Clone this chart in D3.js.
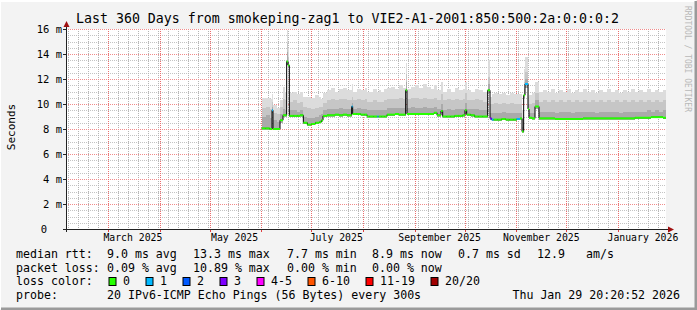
<!DOCTYPE html>
<html>
<head>
<meta charset="utf-8">
<title>Smokeping 360 days</title>
<style>
  body { margin: 0; background: #f3f3f3; }
  svg text { font-family: "DejaVu Sans Mono", monospace; fill: #000; }
</style>
</head>
<body>
<div id="container"></div>
<script src="https://d3js.org/d3.v7.min.js"></script>
<script>

const width = 697;
const height = 310;
const plotLeft = 66;
const plotRight = 666;
const plotTop = 29;
const plotBottom = 229;

const endTime = new Date(2026, 0, 29, 20, 20, 52);
const startTime = new Date(endTime.getTime() - 360 * 864e5);

// days since the start of the graph window
const dayOffset = [
  117.4, 119.8, 122.2, 123.6, 124.2, 126.6, 128.4, 130.2, 131.4, 132.4,
  133.2, 134.0, 136.4, 138.8, 140.4, 142.4, 144.8, 147.2, 149.6, 152.0,
  153.2, 154.2, 156.6, 159.0, 161.4, 163.8, 166.2, 168.6, 171.4, 172.0,
  174.4, 176.8, 179.2, 180.6, 182.0, 184.4, 186.8, 187.6, 189.2, 191.0,
  192.6, 195.0, 197.4, 199.8, 202.2, 203.8, 204.6, 207.0, 209.4, 211.8,
  214.2, 216.6, 219.0, 220.8, 222.6, 225.0, 226.0, 228.4, 230.8, 233.2,
  235.6, 238.0, 239.4, 240.4, 242.8, 245.2, 247.6, 250.0, 253.0, 254.4,
  255.4, 256.6, 259.0, 261.4, 263.8, 266.2, 268.6, 270.4, 272.4, 273.6,
  274.6, 275.4, 277.2, 277.8, 279.6, 281.4, 283.8, 286.2, 288.6, 291.0,
  293.4, 295.8, 298.2, 300.6, 303.0, 305.4, 307.8, 310.2, 312.6, 315.0,
  317.4, 319.8, 322.2, 324.6, 327.0, 329.4, 331.8, 334.2, 336.6, 339.0,
  341.4, 343.8, 346.2, 348.6, 351.0, 353.4, 355.8, 358.2
];

// median rtt, milliseconds
const median = [
  8.05, 8.05, 8.0, 9.5, 8.0, 8.0, 8.7, 9.1, 9.1, 13.4,
  13.1, 9.05, 9.05, 9.05, 9.1, 8.5, 8.35, 8.4, 8.5, 8.55,
  8.7, 9.05, 9.1, 9.1, 9.15, 9.1, 9.15, 9.1, 9.8, 9.2,
  9.2, 9.15, 9.15, 9.0, 9.0, 9.0, 9.0, 9.0, 9.0, 9.0,
  9.15, 9.15, 9.2, 9.15, 9.15, 11.1, 9.2, 9.2, 9.2, 9.2,
  9.2, 9.2, 9.2, 9.3, 9.1, 9.45, 9.0, 9.0, 9.0, 9.05,
  9.05, 9.1, 9.5, 9.15, 9.1, 9.0, 9.0, 9.0, 11.1, 8.85,
  8.75, 8.75, 8.75, 8.8, 8.75, 8.75, 8.75, 8.8, 8.85, 7.8,
  10.7, 11.6, 9.6, 8.9, 8.85, 9.8, 8.85, 8.85, 8.85, 8.85,
  8.8, 8.8, 8.8, 8.8, 8.8, 8.8, 8.8, 8.85, 8.85, 8.85,
  8.85, 8.85, 8.85, 8.85, 8.85, 8.85, 8.85, 8.85, 8.85, 8.85,
  8.9, 8.9, 8.9, 8.9, 8.95, 8.95, 8.95, 8.9
];

// lost pings out of 20
const lossCount = [
  0, 0, 0, 1, 0, 0, 0, 0, 0, 0,
  0, 0, 0, 0, 0, 0, 0, 0, 0, 0,
  0, 0, 0, 0, 0, 0, 0, 0, 1, 0,
  0, 0, 0, 0, 0, 0, 1, 0, 0, 0,
  0, 0, 0, 0, 0, 0, 0, 0, 0, 0,
  0, 0, 0, 0, 0, 0, 0, 0, 0, 0,
  0, 0, 0, 0, 0, 0, 0, 0, 0, 3,
  1, 0, 0, 0, 0, 0, 0, 1, 0, 0,
  0, 1, 0, 0, 0, 0, 0, 0, 0, 0,
  0, 0, 0, 0, 0, 0, 0, 0, 0, 0,
  0, 0, 0, 0, 0, 0, 0, 0, 0, 0,
  0, 0, 0, 0, 0, 0, 0, 0
];

// smoke: spread of the 20 pings around the median, milliseconds
const smokeLow = [
  7.95, 7.95, 7.9, 9.3, 7.9, 7.9, 8.5, 8.95, 8.95, 13.1,
  12.9, 8.95, 8.95, 8.95, 9.0, 8.4, 8.25, 8.3, 8.4, 8.45,
  8.6, 8.95, 9.0, 9.0, 9.05, 9.0, 9.05, 9.0, 9.6, 9.1,
  9.1, 9.05, 9.05, 8.9, 8.9, 8.9, 8.9, 8.9, 8.9, 8.9,
  9.05, 9.05, 9.1, 9.05, 9.05, 10.9, 9.1, 9.1, 9.1, 9.1,
  9.1, 9.1, 9.1, 9.2, 9.0, 9.3, 8.9, 8.9, 8.9, 8.95,
  8.95, 9.0, 9.3, 9.05, 9.0, 8.9, 8.9, 8.9, 10.9, 8.75,
  8.65, 8.65, 8.65, 8.7, 8.65, 8.65, 8.65, 8.7, 8.7, 7.65,
  10.5, 11.3, 9.4, 8.8, 8.75, 9.6, 8.75, 8.75, 8.75, 8.75,
  8.7, 8.7, 8.7, 8.7, 8.7, 8.7, 8.7, 8.75, 8.75, 8.75,
  8.75, 8.75, 8.75, 8.75, 8.75, 8.75, 8.75, 8.75, 8.75, 8.75,
  8.8, 8.8, 8.8, 8.8, 8.85, 8.85, 8.85, 8.8
];

const smokeInner = [
  9.0, 9.1, 8.9, 9.8, 8.7, 8.6, 9.2, 9.6, 9.5, 14.2,
  13.4, 9.5, 9.5, 9.4, 9.5, 9.0, 8.9, 8.9, 9.0, 9.1,
  9.2, 9.5, 9.6, 9.6, 9.6, 9.7, 9.6, 9.6, 10.1, 9.6,
  9.7, 9.6, 9.6, 9.5, 9.5, 9.5, 9.5, 9.5, 9.5, 9.5,
  9.7, 9.7, 9.7, 9.7, 9.7, 11.8, 9.7, 9.8, 9.7, 9.7,
  9.8, 9.7, 9.7, 9.8, 9.6, 10.0, 9.5, 9.6, 9.5, 9.6,
  9.6, 9.6, 10.1, 9.6, 9.6, 9.6, 9.5, 9.5, 11.6, 9.3,
  9.3, 9.3, 9.3, 9.4, 9.3, 9.3, 9.3, 9.3, 9.3, 8.2,
  11.2, 12.0, 10.0, 9.3, 9.3, 10.3, 9.4, 9.4, 9.4, 9.4,
  9.3, 9.4, 9.4, 9.4, 9.3, 9.4, 9.4, 9.4, 9.4, 9.4,
  9.3, 9.4, 9.4, 9.4, 9.4, 9.4, 9.3, 9.4, 9.4, 9.4,
  9.4, 9.4, 9.4, 9.5, 9.4, 9.5, 9.4, 9.5
];

const smokeMid = [
  9.7, 9.8, 9.6, 10.2, 9.3, 9.2, 9.8, 10.4, 10.3, 14.9,
  13.8, 10.2, 10.3, 10.1, 10.2, 9.8, 9.7, 9.6, 9.7, 9.8,
  9.8, 10.1, 10.3, 10.4, 10.3, 10.4, 10.4, 10.3, 10.6, 10.3,
  10.4, 10.3, 10.4, 10.2, 10.2, 10.3, 10.2, 10.2, 10.2, 10.3,
  10.4, 10.4, 10.4, 10.5, 10.4, 12.4, 10.4, 10.5, 10.5, 10.4,
  10.5, 10.4, 10.4, 10.5, 10.3, 10.8, 10.3, 10.4, 10.3, 10.4,
  10.3, 10.4, 10.9, 10.3, 10.3, 10.4, 10.3, 10.2, 12.2, 10.0,
  10.0, 10.1, 10.0, 10.1, 10.0, 10.1, 10.0, 10.0, 10.0, 8.8,
  11.8, 12.6, 10.6, 10.0, 10.1, 10.9, 10.2, 10.3, 10.2, 10.3,
  10.2, 10.3, 10.2, 10.3, 10.2, 10.3, 10.2, 10.3, 10.2, 10.3,
  10.2, 10.3, 10.2, 10.3, 10.2, 10.3, 10.2, 10.3, 10.2, 10.3,
  10.2, 10.3, 10.2, 10.3, 10.2, 10.3, 10.2, 10.3
];

const smokeTop = [
  10.45, 10.5, 10.4, 10.8, 9.9, 9.7, 10.3, 11.4, 11.0, 15.9,
  14.5, 10.9, 11.0, 10.8, 11.0, 10.6, 10.6, 10.5, 10.7, 10.6,
  10.4, 10.9, 11.1, 11.3, 11.0, 11.2, 11.3, 11.1, 11.6, 11.0,
  11.2, 11.1, 11.3, 11.0, 11.0, 11.2, 11.0, 11.1, 11.0, 11.2,
  11.3, 11.4, 11.2, 11.5, 11.3, 13.3, 11.2, 11.4, 11.5, 11.3,
  11.6, 11.4, 11.2, 11.5, 11.1, 11.8, 11.0, 11.2, 11.0, 11.3,
  11.1, 11.2, 11.8, 11.1, 11.0, 11.2, 11.1, 11.0, 13.5, 10.6,
  10.8, 10.9, 10.8, 10.9, 10.7, 10.9, 10.8, 10.8, 10.8, 9.5,
  12.8, 13.8, 11.4, 10.7, 10.9, 11.8, 11.0, 11.1, 11.0, 11.2,
  10.9, 11.1, 11.0, 11.2, 10.9, 11.1, 11.0, 11.2, 11.0, 11.1,
  10.9, 11.1, 11.0, 11.2, 11.0, 11.1, 10.9, 11.1, 11.0, 11.2,
  11.0, 11.1, 11.0, 11.2, 11.0, 11.1, 11.0, 11.1
];

const yTicks = [0, 2, 4, 6, 8, 10, 12, 14, 16];
const labelMonths = [new Date(2025, 2, 1), new Date(2025, 4, 1), new Date(2025, 6, 1),
                     new Date(2025, 8, 1), new Date(2025, 10, 1), new Date(2026, 0, 1)];

const lossLabels = ["0", "1", "2", "3", "4-5", "6-10", "11-19", "20/20"];
const lossColors = ["#26ff00", "#00b8ff", "#0059ff", "#7e00ff", "#ff00ff", "#ff5500", "#ff0000", "#a00000"];
const lossUpper = [0, 1, 2, 3, 5, 10, 19, 20];

const rttStats = ["9.0 ms avg", "13.3 ms max", "7.7 ms min", "8.9 ms now", "0.7 ms sd", "12.9", "am/s"];
const lossStats = ["0.09 % avg", "10.89 % max", "0.00 % min", "0.00 % now"];
const statCols = [107, 193, 287, 372, 458, 537, 586];

const title = "Last 360 Days from smokeping-zag1 to VIE2-A1-2001:850:500:2a:0:0:0:2";
const probeText = "20 IPv6-ICMP Echo Pings (56 Bytes) every 300s";
const stampText = "Thu Jan 29 20:20:52 2026";

const atDay = d => new Date(startTime.getTime() + d * 864e5);
const lossColor = n => lossColors[lossUpper.findIndex(u => n <= u)];

const x = d3.scaleTime().domain([startTime, endTime]).range([plotLeft, plotRight]);
const y = d3.scaleLinear().domain([0, 16]).range([plotBottom, plotTop]);

const rows = dayOffset.map((d, i) => ({
  t: atDay(d), med: median[i], loss: lossCount[i],
  low: smokeLow[i], inner: smokeInner[i], mid: smokeMid[i], top: smokeTop[i]
}));
// last sample holds until the end of the window
const stepRows = rows.concat([Object.assign({}, rows[rows.length - 1], {t: endTime})]);

const svg = d3.select("#container").append("svg")
    .attr("width", width)
    .attr("height", height);

// frame
svg.append("rect").attr("width", width).attr("height", height).attr("fill", "#f3f3f3");
svg.append("path").attr("d", `M0,${height - 1}V1H${width - 1}`).attr("stroke", "#fff").attr("stroke-width", 2).attr("fill", "none");
svg.append("path").attr("d", `M1,${height - 1}H${width - 1}V1`).attr("stroke", "#9a9a9a").attr("stroke-width", 3).attr("fill", "none");

svg.append("rect")
    .attr("x", plotLeft).attr("y", plotTop)
    .attr("width", plotRight - plotLeft).attr("height", plotBottom - plotTop)
    .attr("fill", "#fff");

// grid: dotted rows and columns, one pixel wide
const px = v => Math.round(v);
const minorY = d3.range(1, 32).map(v => v / 2).filter(v => v % 2 !== 0);

// calendar days in the window, month starts and every sixth day
const allDays = d3.range(0, 362).map(k =>
    new Date(startTime.getFullYear(), startTime.getMonth(), startTime.getDate() + k))
  .filter(d => d >= startTime && d <= endTime);
const months = allDays.filter(d => d.getDate() === 1);
const minorX = allDays.filter(d =>
    Math.round(Date.UTC(d.getFullYear(), d.getMonth(), d.getDate()) / 864e5) % 6 === 0);

const dotsV = d3.range(plotTop, plotBottom, 2);
const dotsH = d3.range(plotLeft, plotRight, 2);
const colPath = xs => xs.map(xv => dotsV.map(yv => `M${xv},${yv}h1v1h-1z`).join("")).join("");
const rowPath = ys => ys.map(yv => dotsH.map(xv => `M${xv},${yv}h1v1h-1z`).join("")).join("");

svg.append("path")
    .attr("d", rowPath(minorY.map(v => px(y(v)))))
    .attr("fill", "#c4c4c4");
svg.append("path")
    .attr("d", colPath(minorX.map(d => px(x(d)))))
    .attr("fill", "#b4b4b4");
svg.append("path")
    .attr("d", rowPath(yTicks.filter(v => v > 0).map(v => px(y(v)))))
    .attr("fill", "#f08c8c");
svg.append("path")
    .attr("d", colPath(months.map(d => px(x(d)))))
    .attr("fill", "#ea6e6e");

// smoke
const band = (lo, hi) => d3.area()
    .curve(d3.curveStepAfter)
    .x(d => x(d.t))
    .y0(d => y(d[lo]))
    .y1(d => y(d[hi]));

const smoke = svg.append("g").attr("shape-rendering", "crispEdges");
smoke.append("path").attr("d", band("mid", "top")(stepRows)).attr("fill", "#dcdcdc");
smoke.append("path").attr("d", band("inner", "mid")(stepRows)).attr("fill", "#c6c6c6");
smoke.append("path").attr("d", band("low", "inner")(stepRows)).attr("fill", "#aaaaaa");

// median: black step line, loss colour on each sample
svg.append("path")
    .attr("d", d3.line().curve(d3.curveStepAfter).x(d => x(d.t)).y(d => y(d.med))(stepRows))
    .attr("fill", "none")
    .attr("stroke", "#000")
    .attr("stroke-width", 1);

svg.append("g").selectAll("line").data(rows).join("line")
    .attr("x1", d => x(d.t))
    .attr("x2", (d, i) => x(stepRows[i + 1].t))
    .attr("y1", d => y(d.med))
    .attr("y2", d => y(d.med))
    .attr("stroke", d => lossColor(d.loss))
    .attr("stroke-width", 2);

// axes
const axis = svg.append("g").attr("shape-rendering", "crispEdges");
axis.append("line").attr("x1", plotLeft - 3).attr("x2", plotRight + 5)
    .attr("y1", plotBottom + 0.5).attr("y2", plotBottom + 0.5).attr("stroke", "#222");
axis.append("line").attr("x1", plotLeft + 0.5).attr("x2", plotLeft + 0.5)
    .attr("y1", plotBottom + 3).attr("y2", plotTop - 5).attr("stroke", "#222");
axis.selectAll(".ytick").data(yTicks).join("line")
    .attr("x1", plotLeft - 3).attr("x2", plotLeft)
    .attr("y1", d => px(y(d)) + 0.5).attr("y2", d => px(y(d)) + 0.5)
    .attr("stroke", "#222");
axis.selectAll(".xtick").data(months).join("line")
    .attr("x1", d => px(x(d)) + 0.5).attr("x2", d => px(x(d)) + 0.5)
    .attr("y1", plotBottom + 1).attr("y2", plotBottom + 3)
    .attr("stroke", "#e04040");

svg.append("path")
    .attr("d", `M${plotLeft + 0.5},${plotTop - 8}l-3,6h6z`)
    .attr("fill", "#a01010");
svg.append("path")
    .attr("d", `M${plotRight + 8},${plotBottom + 0.5}l-6,-3v6z`)
    .attr("fill", "#a01010");

// y labels
svg.append("g").selectAll("text").data(yTicks).join("text")
    .attr("x", d => d === 0 ? 47 : 62)
    .attr("y", d => y(d) + 3.5)
    .attr("text-anchor", "end")
    .style("font-size", "10.5px")
    .text(d => d === 0 ? "0" : `${d} m`);

// x labels, centred in the month
svg.append("g").selectAll("text").data(labelMonths).join("text")
    .attr("x", d => x(new Date(d.getFullYear(), d.getMonth(), 16)))
    .attr("y", 241)
    .attr("text-anchor", "middle")
    .style("font-size", "9.8px")
    .text(d => d3.timeFormat("%B %Y")(d));

svg.append("text")
    .attr("transform", "translate(15,127) rotate(-90)")
    .attr("text-anchor", "middle")
    .style("font-size", "11px")
    .text("Seconds");

svg.append("text")
    .attr("x", 76).attr("y", 23)
    .attr("textLength", 543)
    .attr("lengthAdjust", "spacingAndGlyphs")
    .style("font-size", "13.3px")
    .text(title);

svg.append("text")
    .attr("transform", "translate(685,6) rotate(90)")
    .style("font-size", "8px")
    .style("fill", "#b8b8b8")
    .text("RRDTOOL / TOBI OETIKER");

// legend
const legend = svg.append("g").style("font-size", "11.6px");
legend.append("text").attr("x", 16).attr("y", 258).text("median rtt:");
legend.append("text").attr("x", 16).attr("y", 272).text("packet loss:");
legend.append("text").attr("x", 16).attr("y", 285).text("loss color:");
legend.append("text").attr("x", 16).attr("y", 299).text("probe:");

legend.selectAll(".rtt").data(rttStats).join("text")
    .attr("x", (d, i) => statCols[i]).attr("y", 258).text(d => d);
legend.selectAll(".pl").data(lossStats).join("text")
    .attr("x", (d, i) => statCols[i]).attr("y", 272).text(d => d);

let lx = 108.5;
lossLabels.forEach((lab, i) => {
  legend.append("rect")
      .attr("x", lx + 0.5).attr("y", 277.5)
      .attr("width", 7).attr("height", 8)
      .attr("fill", lossColors[i])
      .attr("stroke", "#000");
  legend.append("text").attr("x", lx + 14.5).attr("y", 285).text(lab);
  lx += 30 + lab.length * 7;
});

legend.append("text").attr("x", 107).attr("y", 299).text(probeText);
legend.append("text").attr("x", 680).attr("y", 299).attr("text-anchor", "end").text(stampText);

</script>
</body>
</html>
